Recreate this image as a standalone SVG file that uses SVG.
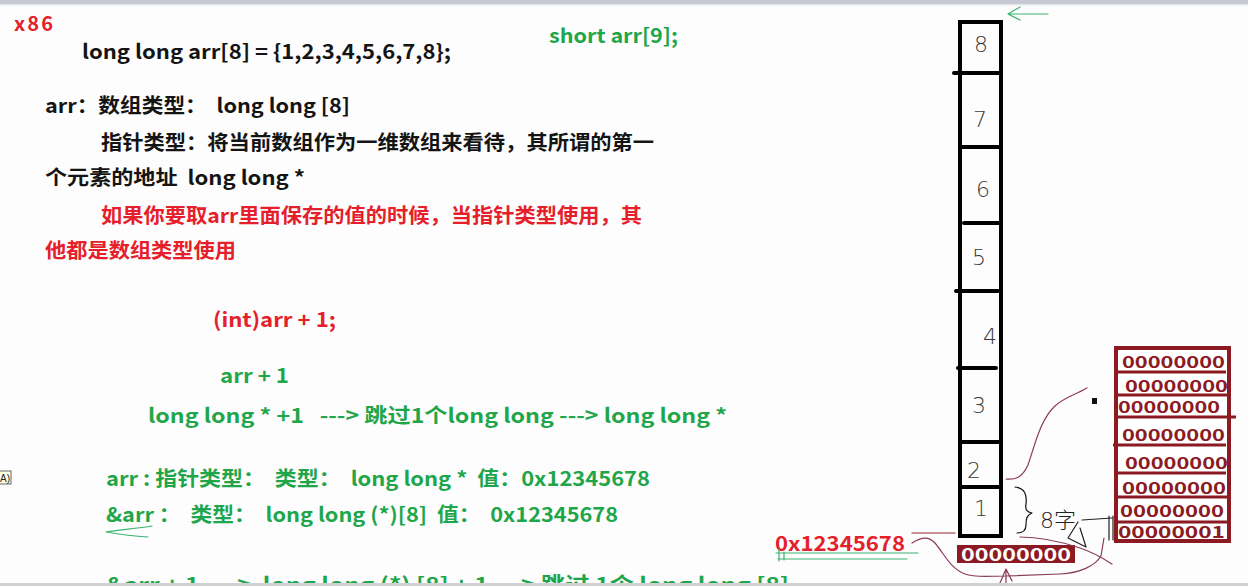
<svg xmlns="http://www.w3.org/2000/svg" width="1248" height="586" viewBox="0 0 1248 586">
<style>
  .t{font-family:"Noto Sans CJK SC","Noto Sans",sans-serif;font-weight:700;font-size:20px;white-space:pre}
  .k{fill:#141414}
  .r{fill:#e5202a}
  .g{fill:#1fa64a}
  .hw{font-family:"DejaVu Sans",sans-serif;font-weight:200;font-size:22px;fill:#3a3a3a}
  .bt{font-family:"Noto Sans CJK SC","Noto Sans",sans-serif;font-weight:700;font-size:16px;fill:#8c1a22}
  .ln{fill:none;stroke:#000;stroke-width:4;stroke-linecap:round}
  .mr{fill:none;stroke:#8c1a22;stroke-width:3}
  .thin{fill:none;stroke-width:1.2;stroke-linecap:round;stroke-linejoin:round}
</style>
<rect width="1248" height="586" fill="#fdfdfd"/>
<rect x="0" y="0" width="1248" height="4" fill="#c6c8d3"/>
<rect x="0" y="4" width="1248" height="1.5" fill="#e3e5ea"/>

<g id="texts">
  <text class="t r" x="14" y="31" font-size="21" textLength="39">x86</text>
  <text class="t k" x="82" y="59" textLength="369" lengthAdjust="spacingAndGlyphs">long long arr[8] = {1,2,3,4,5,6,7,8};</text>
  <text class="t g" x="549" y="43" textLength="129" lengthAdjust="spacingAndGlyphs">short arr[9];</text>
  <text class="t k" x="45" y="113" textLength="305" lengthAdjust="spacingAndGlyphs">arr：数组类型：  long long [8]</text>
  <text class="t k" x="101" y="150" textLength="553" lengthAdjust="spacingAndGlyphs">指针类型：将当前数组作为一维数组来看待，其所谓的第一</text>
  <text class="t k" x="45" y="185" textLength="260" lengthAdjust="spacingAndGlyphs">个元素的地址  long long *</text>
  <text class="t r" x="101" y="223" textLength="541" lengthAdjust="spacingAndGlyphs">如果你要取arr里面保存的值的时候，当指针类型使用，其</text>
  <text class="t r" x="45" y="258" textLength="191" lengthAdjust="spacingAndGlyphs">他都是数组类型使用</text>
  <text class="t r" x="213" y="327" textLength="123" lengthAdjust="spacingAndGlyphs">(int)arr + 1;</text>
  <text class="t g" x="220" y="383" textLength="69" lengthAdjust="spacingAndGlyphs">arr + 1</text>
  <text class="t g" x="148" y="423" textLength="579" lengthAdjust="spacingAndGlyphs">long long * +1   ---&gt; 跳过1个long long ---&gt; long long *</text>
  <text class="t g" x="106" y="486" textLength="544" lengthAdjust="spacingAndGlyphs">arr : 指针类型：  类型：  long long *  值：0x12345678</text>
  <text class="t g" x="106" y="522" textLength="512" lengthAdjust="spacingAndGlyphs">&amp;arr ：  类型：  long long (*)[8]  值：  0x12345678</text>
  <text class="t g" x="106" y="592" textLength="683" lengthAdjust="spacingAndGlyphs">&amp;arr + 1  ---&gt;  long long (*) [8] + 1 ---&gt; 跳过 1个 long long [8]</text>
  <text class="t r" x="775" y="551" font-size="22" textLength="130" lengthAdjust="spacingAndGlyphs">0x12345678</text>
</g>

<g id="tooltip">
  <rect x="-2" y="471" width="13" height="13" fill="#ffffe1" stroke="#666" stroke-width="1"/>
  <text x="0" y="481.5" font-family="Liberation Sans,sans-serif" font-size="10" fill="#222" textLength="10" lengthAdjust="spacingAndGlyphs">A)</text>
</g>

<g id="memory-column">
  <rect x="960" y="22" width="41" height="514" class="ln" stroke-linecap="butt"/>
  <line x1="954" y1="73" x2="999" y2="73" class="ln"/>
  <line x1="960" y1="147" x2="1000" y2="147" class="ln"/>
  <line x1="964" y1="223" x2="999" y2="223" class="ln"/>
  <line x1="956" y1="291" x2="998" y2="291" class="ln"/>
  <line x1="958" y1="368" x2="996" y2="368" class="ln"/>
  <line x1="960" y1="442" x2="1000" y2="442" class="ln"/>
  <line x1="960" y1="487" x2="1000" y2="487" class="ln"/>
  <text class="hw" x="974" y="52">8</text>
  <text class="hw" x="973" y="127">7</text>
  <text class="hw" x="976" y="197">6</text>
  <text class="hw" x="972" y="265">5</text>
  <text class="hw" x="983" y="344">4</text>
  <text class="hw" x="972" y="413">3</text>
  <text class="hw" x="967" y="478">2</text>
  <text class="hw" x="974" y="516" font-size="14">1</text>
</g>

<g id="byte-bar">
  <rect x="957" y="545" width="118" height="18" fill="#8c1a22"/>
  <text x="961" y="561" font-family="Noto Sans CJK SC,sans-serif" font-weight="700" font-size="17" fill="#ffffff" textLength="110" lengthAdjust="spacingAndGlyphs">00000000</text>
</g>

<g id="byte-box">
  <rect x="1116" y="348" width="113" height="193" fill="#ffffff" stroke="#8c1a22" stroke-width="4"/>
  <line x1="1116" y1="372" x2="1226" y2="372" class="mr"/>
  <line x1="1118" y1="395" x2="1228" y2="395" class="mr"/>
  <line x1="1116" y1="417" x2="1236" y2="417" class="mr"/>
  <line x1="1113" y1="445" x2="1226" y2="445" class="mr"/>
  <line x1="1118" y1="473" x2="1226" y2="473" class="mr"/>
  <line x1="1116" y1="497" x2="1228" y2="497" class="mr"/>
  <line x1="1116" y1="522" x2="1228" y2="522" class="mr"/>
  <text class="bt" x="1122" y="368" textLength="103" lengthAdjust="spacingAndGlyphs">00000000</text>
  <text class="bt" x="1125" y="392" textLength="103" lengthAdjust="spacingAndGlyphs">00000000</text>
  <text class="bt" x="1118" y="413" textLength="102" lengthAdjust="spacingAndGlyphs">00000000</text>
  <text class="bt" x="1122" y="441" textLength="103" lengthAdjust="spacingAndGlyphs">00000000</text>
  <text class="bt" x="1125" y="469" textLength="103" lengthAdjust="spacingAndGlyphs">00000000</text>
  <text class="bt" x="1122" y="494" textLength="104" lengthAdjust="spacingAndGlyphs">00000000</text>
  <text class="bt" x="1120" y="517" textLength="104" lengthAdjust="spacingAndGlyphs">00000000</text>
  <text class="bt" x="1118" y="538" textLength="107" lengthAdjust="spacingAndGlyphs">00000001</text>
</g>

<g id="annotation">
  <path class="thin" stroke="#111" d="M1015,487 C1025,488 1027,495 1026,504 C1025,510 1027,512 1032,513 C1027,515 1026,518 1026,525 C1026,531 1023,533 1017,533"/>
  <text x="1040" y="528" font-family="DejaVu Sans,Noto Sans CJK SC,sans-serif" font-weight="200" font-size="22" fill="#222">8字</text>
  <path class="thin" stroke="#222" d="M1082,520 L1112,518 M1078,522 L1068,538 L1086,547 L1080,528 M1109,516 L1109,540 M1113,516 L1113,540"/>
  <rect x="1092" y="398" width="5" height="6" fill="#111"/>
</g>

<g id="connectors">
  <path class="thin" stroke="#3cb371" d="M1048,14 L1009,14 M1020,7 L1008,14 L1020,20"/>
  <path class="thin" stroke="#3cb371" d="M776,553 L918,553 M778,559 L907,559 M779,549 L779,561 M784,552 L784,560"/>
  <path class="thin" stroke="#3cb371" d="M152,526 C140,528 120,530 106,532 C118,534 132,536 148,537"/>
  <path class="thin" stroke="#9a2430" d="M912,533 L955,533"/>
  <path class="thin" stroke="#8c3a5a" d="M912,543 C920,538 928,535 935,543 C945,555 950,568 965,574 C975,578 990,576 1005,576 L1060,574 C1080,573 1095,566 1101,556 L1104,538"/>
  <path class="thin" stroke="#8c3a5a" d="M1000,583 L1006,569 L1012,581 M1006,569 L1006,586"/>
  <path class="thin" stroke="#8c3a5a" d="M1006,479 C1015,480 1022,478 1028,465 C1035,445 1040,420 1055,406 C1065,397 1075,395 1087,388"/>
  <path class="thin" stroke="#8c3a5a" d="M1020,537 C1045,537 1065,543 1080,548 C1095,553 1104,559 1112,564"/>
</g>

<rect x="0" y="583" width="1248" height="3" fill="#d2d2d6"/>
</svg>
